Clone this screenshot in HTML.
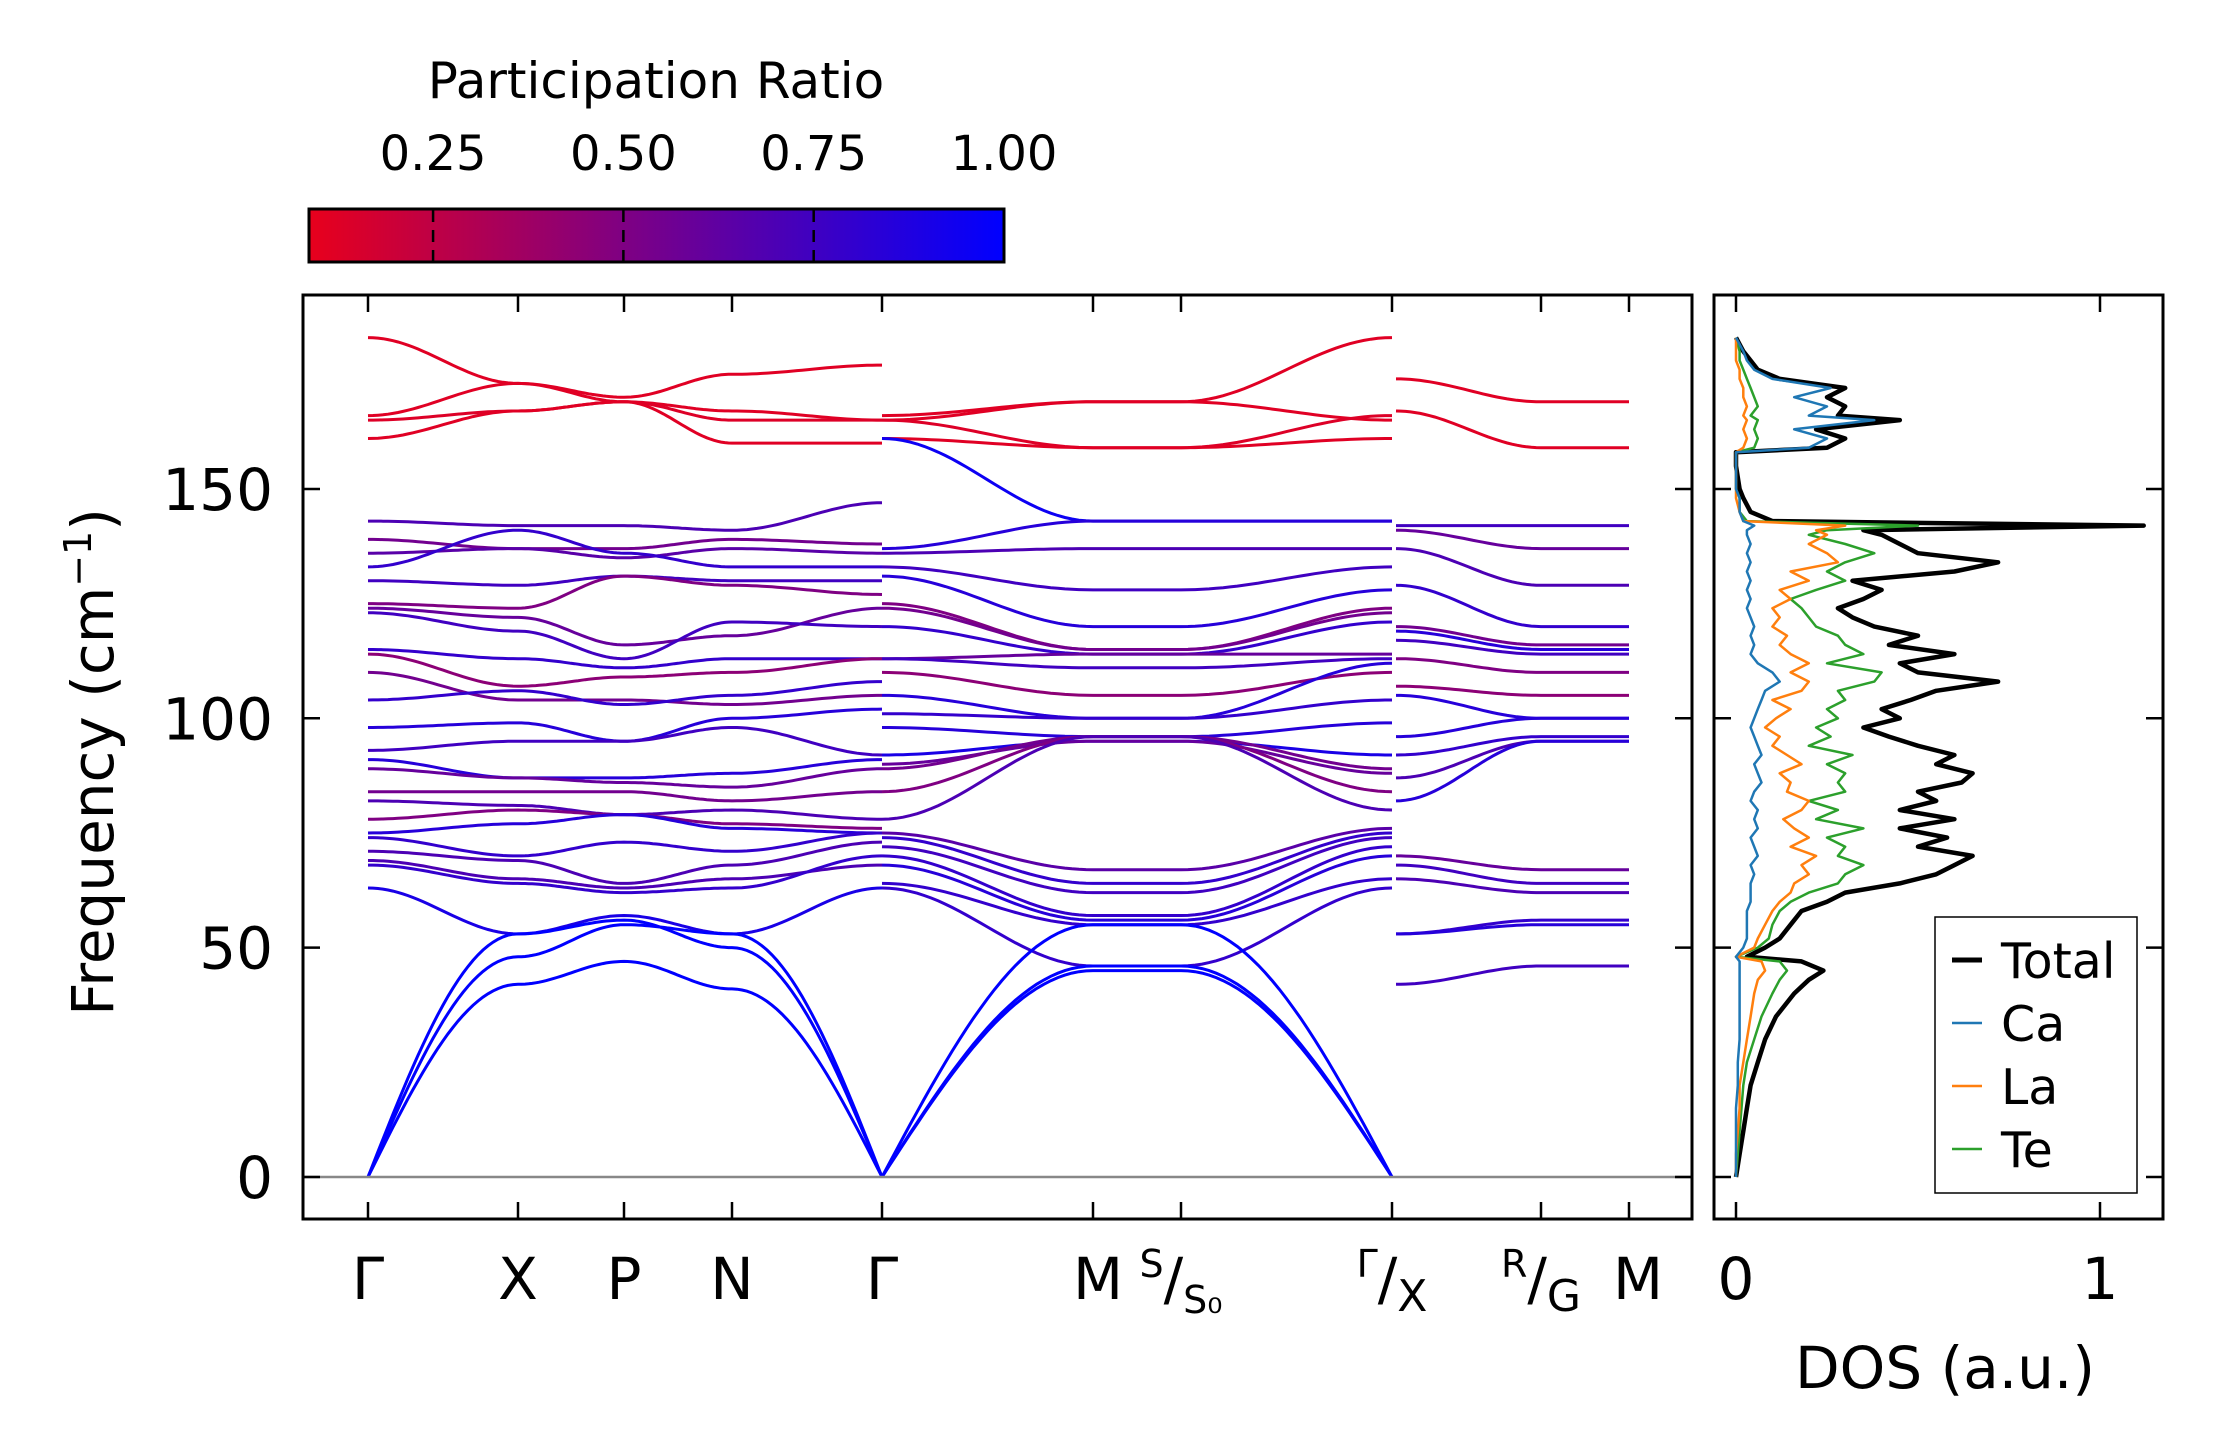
<!DOCTYPE html>
<html><head><meta charset="utf-8"><style>
html,body{margin:0;padding:0;background:#fff}
svg{display:block;font-family:"DejaVu Sans","Liberation Sans",sans-serif}
</style></head><body>
<svg id="fig" width="2222" height="1455" viewBox="0 0 2222 1455" xmlns="http://www.w3.org/2000/svg">
<defs>
<linearGradient id="cbg" x1="0" x2="1" y1="0" y2="0">
<stop offset="0" stop-color="rgb(232,0,28)"/><stop offset="1" stop-color="rgb(0,0,255)"/>
</linearGradient>
<clipPath id="mainclip"><rect x="303" y="295" width="1389" height="924"/></clipPath>
<clipPath id="dosclip"><rect x="1714" y="295" width="449" height="924"/></clipPath>
</defs>
<g>
<text x="656" y="98" font-size="50" text-anchor="middle">Participation Ratio</text>
<rect x="309" y="209" width="695" height="53" fill="url(#cbg)" stroke="#000" stroke-width="3"/>
<g id="cbticks"></g>
</g>
<g>
<g id="bands" clip-path="url(#mainclip)"></g>
<line x1="303" x2="1692" y1="1177" y2="1177" stroke="#888" stroke-width="2.5"/>
<rect x="303" y="295" width="1389" height="924" fill="none" stroke="#000" stroke-width="3"/>
<g id="mainaxes"></g>
<text transform="translate(113,762) rotate(-90)" font-size="58" text-anchor="middle">Frequency (cm<tspan font-size="38" dy="-22">−1</tspan><tspan dy="22">)</tspan></text>
</g>
<g>
<g id="dos" clip-path="url(#dosclip)"></g>
<rect x="1714" y="295" width="449" height="924" fill="none" stroke="#000" stroke-width="3"/>
<g id="dosaxes"></g>
<text x="1945" y="1388" font-size="58" text-anchor="middle">DOS (a.u.)</text>
<g>
<rect x="1935" y="917" width="202" height="276" fill="#fff" stroke="#000" stroke-width="1.5"/>
<g id="legend"></g>
</g>
</g>
</svg>
<script>
const NS="http://www.w3.org/2000/svg";
// ---- data ----
const yTicks=[0,50,100,150];
const cbTicks=[0.25,0.5,0.75,1.0];
const cbTickLabels=["0.25","0.50","0.75","1.00"];
// panel 1: Γ X P N Γ
const p1Bands=[
[183,173,170,175,177],[166,173,169,167,165],[165,167,169,165,165],[161,167,169,160,160],
[143,142,142,141,147],[139,137,137,139,138],[136,137,135,137,136],[133,141,136,133,133],
[130,129,131,130,130],[125,124,131,129,127],[124,122,116,118,124],[123,119,113,121,120],
[115,113,111,113,113],[114,107,109,110,113],[110,104,104,103,105],[104,106,103,105,108],
[98,99,95,100,102],[93,95,95,98,92],[91,87,87,88,91],[89,87,86,85,89],[84,84,84,82,84],
[82,81,79,80,78],[78,80,79,77,76],[75,77,79,76,75],[74,70,73,71,75],[71,69,64,68,73],
[69,65,63,65,68],[68,64,62,63,70],[63,53,57,53,63],
[0,53,56,50,0],[0,48,55,53,0],[0,42,47,41,0]];
const p1PR=[0.12,0.12,0.13,0.12,0.7,0.55,0.65,0.8,0.75,0.5,0.6,0.75,0.8,0.45,0.55,0.8,0.85,0.75,0.85,0.6,0.55,0.7,0.5,0.85,0.8,0.7,0.7,0.8,0.9,1,1,1];
// panel 2: Γ M S Γ
const p2Bands=[
[166,169,169,183],[165,169,169,165],[165,159,159,166],[161,159,159,161],
[161,143,143,143],[137,143,143,143],[136,137,137,137],[133,128,128,133],[131,120,120,128],
[125,115,115,124],[124,115,115,123],[120,114,114,121],[113,114,114,114],[113,111,111,113],
[110,105,105,110],[105,100,100,112],[101,100,100,104],[98,96,96,99],[92,95,95,92],
[90,95,95,88],[89,96,96,89],[84,96,96,84],[78,96,96,80],[75,67,67,76],[74,64,64,75],
[72,62,62,74],[70,57,57,72],[68,56,56,70],[64,55,55,65],[63,46,46,63],
[0,55,55,0],[0,46,46,0],[0,45,45,0]];
const p2PR=[0.12,0.12,0.13,0.12,0.95,0.85,0.7,0.75,0.85,0.5,0.55,0.8,0.6,0.75,0.45,0.85,0.8,0.85,0.9,0.6,0.55,0.5,0.7,0.65,0.8,0.75,0.8,0.85,0.8,0.8,1,1,1];
// panel 3: X R/G M
const p3Bands=[[174,169,169],[167,159,159],[142,142,142],[141,137,137],[137,129,129],
[129,120,120],[120,116,116],[119,115,115],[117,114,114],[113,110,110],[107,105,105],
[105,100,100],[96,100,100],[92,96,96],[87,95,95],[82,95,95],[70,67,67],[68,64,64],
[65,62,62],[53,56,56],[53,55,55],[42,46,46]];
const p3PR=[0.12,0.12,0.75,0.6,0.7,0.8,0.55,0.85,0.75,0.5,0.45,0.85,0.85,0.8,0.7,0.85,0.6,0.75,0.7,0.8,0.85,0.75];
// DOS
const dosFreq=[0,5,10,15,20,25,30,35,40,43,45,47,48,50,52,55,58,60,62,64,
66,68,70,72,74,76,78,80,82,84,86,88,90,92,94,96,98,100,102,104,
106,108,110,112,114,116,118,120,122,124,126,128,130,132,134,136,138,140,141,142,
143,145,148,150,155,158,159,161,163,165,166,168,170,172,174,176,178,180,183];
const dosTotal=[0,.01,.02,.03,.04,.06,.08,.11,.16,.2,.24,.18,.03,.08,.12,.15,.18,.25,.3,.45,
.55,.6,.65,.5,.58,.45,.6,.45,.55,.5,.62,.65,.55,.6,.5,.42,.35,.45,.4,.48,
.55,.72,.5,.45,.6,.42,.5,.38,.32,.28,.35,.4,.32,.6,.72,.5,.45,.4,.35,1.12,
.1,.04,.02,.01,0,0,.25,.3,.22,.45,.28,.3,.25,.3,.12,.06,.04,.02,0];
const dosCa=[0,0,0,0,.005,.005,.01,.01,.01,.01,.01,.01,0,.02,.03,.03,.03,.04,.04,.04,
.05,.04,.06,.05,.04,.06,.05,.06,.04,.05,.07,.06,.05,.07,.06,.05,.04,.05,.06,.07,
.08,.12,.1,.06,.04,.05,.04,.05,.04,.03,.04,.03,.04,.03,.04,.03,.04,.03,.03,.05,
.02,.01,.01,0,0,0,.2,.25,.16,.38,.2,.25,.16,.26,.1,.05,.03,.02,0];
const dosLa=[0,0,.005,.01,.01,.02,.03,.04,.05,.06,.08,.07,0,.05,.06,.08,.1,.12,.15,.16,
.2,.18,.22,.15,.2,.16,.13,.18,.2,.14,.15,.12,.18,.14,.1,.12,.08,.11,.15,.1,
.18,.2,.15,.2,.15,.12,.14,.1,.12,.1,.15,.12,.2,.15,.28,.25,.2,.25,.22,.3,
.02,.01,0,0,0,0,.02,.03,.02,.03,.02,.03,.02,.02,.01,.01,0,0,0];
const dosTe=[0,.005,.01,.015,.02,.03,.05,.07,.1,.12,.14,.12,0,.06,.09,.1,.12,.15,.2,.28,
.3,.35,.28,.3,.25,.35,.22,.28,.2,.3,.28,.3,.25,.32,.2,.26,.22,.28,.25,.3,
.28,.38,.4,.25,.35,.3,.28,.22,.2,.18,.15,.22,.3,.25,.3,.38,.3,.2,.25,.5,
.03,.01,.01,0,0,0,.05,.06,.05,.06,.04,.06,.05,.04,.03,.02,.01,.01,0];
const dosTicks=[0,1];
// ---- layout / scales ----
const Y=f=>1177-f*4.587;
const CBX=v=>309+(v-0.087)/(1-0.087)*695;
const DX=v=>1736+v*364;
const p1X=[368,518,624,732,882],p2X=[882,1093,1181,1392],p3X=[1396,1541,1629];
function col(pr){const t=Math.max(0,Math.min(1,(pr-0.087)/(1-0.087)));
return `rgb(${Math.round(232*(1-t))},0,${Math.round(28+227*t)})`;}
function mk(tag,attrs,parent){const e=document.createElementNS(NS,tag);for(const k in attrs)e.setAttribute(k,attrs[k]);parent.appendChild(e);return e;}
const bandsG=document.getElementById('bands');
function drawPanel(bands,prs,xs,name){
 bands.forEach((b,i)=>{
  const pts=[];
  for(let s=0;s<xs.length-1;s++){
   const a=b[s],c=b[s+1];
   for(let j=0;j<=30;j++){const t=j/30;let v;
    if(a===0&&c!==0)v=c*Math.sin(Math.PI/2*t);
    else if(c===0&&a!==0)v=a*Math.sin(Math.PI/2*(1-t));
    else v=a+(c-a)*(1-Math.cos(Math.PI*t))/2;
    pts.push((xs[s]+(xs[s+1]-xs[s])*t).toFixed(1)+','+Y(v).toFixed(1));}
  }
  const p=mk('polyline',{points:pts.join(' '),fill:'none',stroke:col(prs[i]),'stroke-width':3},bandsG);
  
  
 });
}
drawPanel(p1Bands,p1PR,p1X,'panel1');
drawPanel(p2Bands,p2PR,p2X,'panel2');
drawPanel(p3Bands,p3PR,p3X,'panel3');
// colorbar ticks
const cbt=document.getElementById('cbticks');
cbTicks.forEach((v,i)=>{
 const x=CBX(v);
 if(v<0.99){const l=mk('line',{x1:x,x2:x,y1:210,y2:261,stroke:'#000','stroke-width':2.5,'stroke-dasharray':'12,8'},cbt);
 }
 const t=mk('text',{x:x,y:170,'font-size':48,'text-anchor':'middle'},cbt);t.textContent=cbTickLabels[i];
 
});
// main axes
const ma=document.getElementById('mainaxes');
yTicks.forEach(v=>{const y=Y(v);
 mk('line',{x1:303,x2:320,y1:y,y2:y,stroke:'#000','stroke-width':2.5},ma);
 mk('line',{x1:1675,x2:1692,y1:y,y2:y,stroke:'#000','stroke-width':2.5},ma);
 const t=mk('text',{x:273,y:y+21,'font-size':58,'text-anchor':'end'},ma);t.textContent=v;
 
 mk('line',{x1:1714,x2:1731,y1:y,y2:y,stroke:'#000','stroke-width':2.5},ma);
 mk('line',{x1:2146,x2:2163,y1:y,y2:y,stroke:'#000','stroke-width':2.5},ma);
});
const kx=[368,518,624,732,882,1093,1181,1392,1541,1629];
kx.forEach(x=>{mk('line',{x1:x,x2:x,y1:295,y2:312,stroke:'#000','stroke-width':2.5},ma);
 mk('line',{x1:x,x2:x,y1:1202,y2:1219,stroke:'#000','stroke-width':2.5},ma);});
function lab(x,html){const t=mk('text',{x:x,y:1299,'font-size':58,'text-anchor':'middle'},ma);t.innerHTML=html;
 }
lab(368,'Γ');lab(518,'X');lab(624,'P');lab(732,'N');lab(882,'Γ');lab(1098,'M');
lab(1181,'<tspan font-size="38" dy="-22">S</tspan><tspan dy="22">/</tspan><tspan font-size="38" dy="14">S₀</tspan>');
lab(1392,'<tspan font-size="38" dy="-22">Γ</tspan><tspan dy="22">/</tspan><tspan font-size="44" dy="12">X</tspan>');
lab(1541,'<tspan font-size="38" dy="-22">R</tspan><tspan dy="22">/</tspan><tspan font-size="44" dy="12">G</tspan>');
lab(1638,'M');
// DOS
const da=document.getElementById('dosaxes');
dosTicks.forEach(v=>{const x=DX(v);
 mk('line',{x1:x,x2:x,y1:295,y2:312,stroke:'#000','stroke-width':2.5},da);
 mk('line',{x1:x,x2:x,y1:1202,y2:1219,stroke:'#000','stroke-width':2.5},da);
 const t=mk('text',{x:x,y:1299,'font-size':58,'text-anchor':'middle'},da);t.textContent=v;
 });
const dg=document.getElementById('dos');
const series=[["total",dosTotal,"#000",4.5],["te",dosTe,"#2ca02c",2.5],["la",dosLa,"#ff7f0e",2.5],["ca",dosCa,"#1f77b4",2.5]];
series.forEach(s=>{const n=Math.min(dosFreq.length,s[1].length);const pts=[];
 for(let i=0;i<n;i++)pts.push(DX(s[1][i]).toFixed(1)+','+Y(dosFreq[i]).toFixed(1));
 const p=mk('polyline',{points:pts.join(' '),fill:'none',stroke:s[2],'stroke-width':s[3],'stroke-linejoin':'round'},dg);
 });
// legend
const lg=document.getElementById('legend');
[["Total","#000",5],["Ca","#1f77b4",2.5],["La","#ff7f0e",2.5],["Te","#2ca02c",2.5]].forEach((e,i)=>{
 const y=960+i*63;
 const g=mk('g',{},lg);
 mk('line',{x1:1952,x2:1982,y1:y,y2:y,stroke:e[1],'stroke-width':e[2]},g);
 const t=mk('text',{x:2001,y:y+18,'font-size':49},g);t.textContent=e[0];});
</script>
</body></html>
